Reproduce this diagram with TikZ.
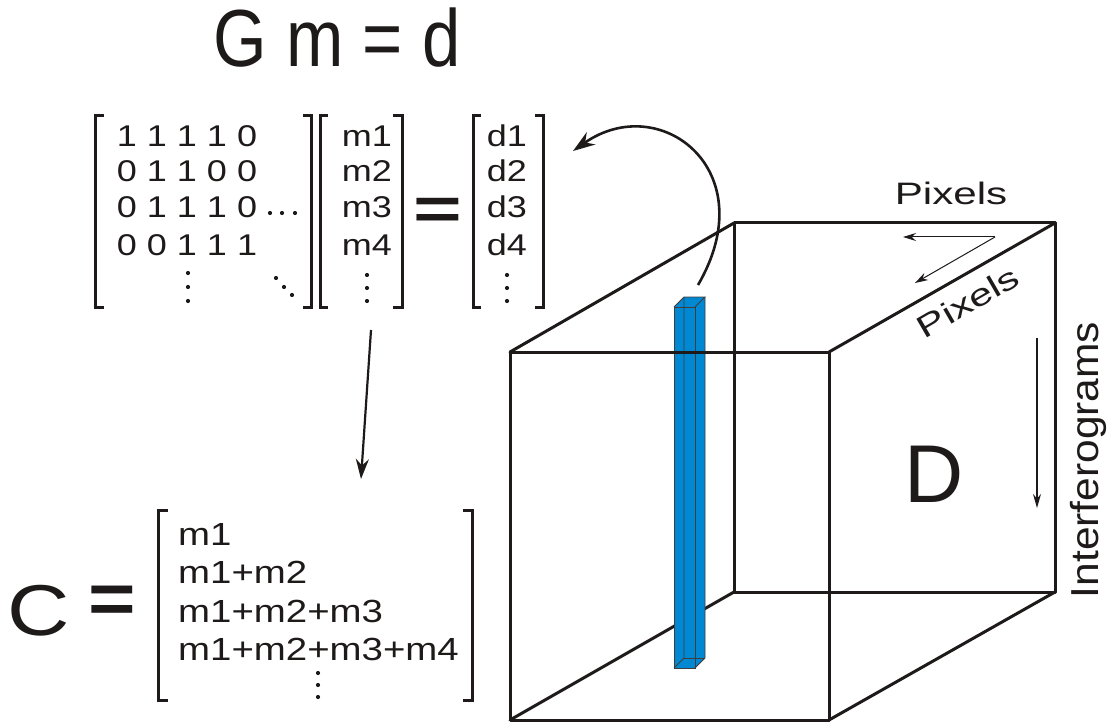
\documentclass[tikz,border=0pt]{standalone}
\usepackage{fontspec}
\setmainfont{Liberation Sans}
\newfontfamily\fW{Liberation Sans}[FakeStretch=1.2]
\newfontfamily\fT{Liberation Sans}[FakeStretch=0.85]
\newfontfamily\fP{Liberation Sans}[FakeStretch=1.36]
\newfontfamily\fI{Liberation Sans}[FakeStretch=1.09]
\usetikzlibrary{arrows.meta}
\definecolor{barblue}{RGB}{0,137,210}
\definecolor{ink}{RGB}{30,26,26}
\tikzset{
  cubeedge/.style={line width=3pt, draw=ink, line cap=round, line join=round},
  brk/.style={line width=3pt, draw=ink, line join=miter},
  mtxt/.style={font=\fW\fontsize{30}{36}\selectfont, inner sep=0pt, anchor=base, text=ink},
  ctxt/.style={font=\fW\fontsize{32}{38}\selectfont, inner sep=0pt, anchor=base west, text=ink},
  lbl/.style={font=\fP\fontsize{31}{36}\selectfont, inner sep=0pt, text=ink},
  baredge/.style={line width=0.8pt, draw=ink!85},
  thinarrow/.style={line width=1pt, draw=ink, -{Stealth[length=13pt,width=8pt]}},
  bigarrow/.style={line width=2.2pt, draw=ink, -{Stealth[length=20pt,width=13pt]}},
}
\begin{document}
\begin{tikzpicture}[x=1pt,y=-1pt]
\useasboundingbox (0,0) rectangle (1114,722);

% ---------- title ----------
\node[font=\fT\fontsize{81}{90}\selectfont, inner sep=0pt, anchor=base, text=ink] (title) at (337,67) {G m = d};

% ---------- G matrix ----------
\draw[brk] (104,116) -- (95,116) -- (95,307) -- (104,307);
\draw[brk] (303,116) -- (311,116) -- (311,307) -- (303,307);
\node[mtxt] (g1) at (187,147) {1 1 1 1 0};
\node[mtxt] (g2) at (187,182) {0 1 1 0 0};
\node[mtxt] (g3) at (187,218) {0 1 1 1 0};
\node[mtxt] (g4) at (187,255) {0 0 1 1 1};
\foreach \x in {270,282,295} \fill[ink] (\x,213) circle (2.1);
\foreach \y in {273,287,301} \fill[ink] (188,\y) circle (2.1);
\fill[ink] (276,278) circle (2.1);
\fill[ink] (284,287) circle (2.1);
\fill[ink] (292,295) circle (2.1);

% ---------- m vector ----------
\draw[brk] (328,116) -- (320,116) -- (320,307) -- (328,307);
\draw[brk] (393,116) -- (402,116) -- (402,307) -- (393,307);
\node[mtxt] (m1) at (367,147) {m1};
\node[mtxt] (m2) at (367,182) {m2};
\node[mtxt] (m3) at (367,218) {m3};
\node[mtxt] (m4) at (367,255) {m4};
\foreach \y in {275,288,301} \fill[ink] (367,\y) circle (2.1);

% ---------- equals ----------
\node[inner sep=0pt, text=ink] (eq1) at (438,214)
  {\scalebox{1.39}[1]{\fontsize{60}{60}\selectfont\bfseries =}};

% ---------- d vector ----------
\draw[brk] (481,116) -- (473,116) -- (473,307) -- (481,307);
\draw[brk] (535,116) -- (543,116) -- (543,307) -- (535,307);
\node[mtxt] (d1) at (507,147) {d1};
\node[mtxt] (d2) at (507,182) {d2};
\node[mtxt] (d3) at (507,218) {d3};
\node[mtxt] (d4) at (507,255) {d4};
\foreach \y in {275,288,301} \fill[ink] (507,\y) circle (2.1);

% ---------- C = [...] ----------
\node[font=\fW\fontsize{72}{80}\selectfont, inner sep=0pt, text=ink] (C) at (39,611) {C};
\node[inner sep=0pt, text=ink] (eq2) at (112,605)
  {\scalebox{1.13}[1]{\fontsize{72}{72}\selectfont\bfseries =}};
\draw[brk] (168,510) -- (158,510) -- (158,700) -- (168,700);
\draw[brk] (463,510) -- (472,510) -- (472,700) -- (463,700);
\node[ctxt] (c1) at (178,545) {m1};
\node[ctxt] (c2) at (178,583) {m1+m2};
\node[ctxt] (c3) at (178,622) {m1+m2+m3};
\node[ctxt] (c4) at (178,660) {m1+m2+m3+m4};
\foreach \y in {673,685,697} \fill[ink] (318,\y) circle (2.1);

% ---------- arrow m -> C ----------
\coordinate (mbot) at (371,330);
\coordinate (ctop) at (361,479);
\draw[bigarrow] (mbot) -- (ctop);

% ---------- cube corners ----------
\coordinate (F1) at (510,352);
\coordinate (F2) at (829,352);
\coordinate (F3) at (829,720);
\coordinate (F4) at (510,720);
\coordinate (B1) at (734,223);
\coordinate (B2) at (1055,223);
\coordinate (B3) at (1055,592);
\coordinate (B4) at (734,592);
% back face and hidden edges (behind the bar)
\draw[cubeedge] (B1) -- (B2) -- (B3) -- (B4) -- cycle;
\draw[cubeedge] (F1) -- (B1);
\draw[cubeedge] (F4) -- (B4);

% ---------- blue bar ----------
\fill[barblue] (674,307) -- (684,297) -- (705,297) -- (705,658) -- (695,668) -- (674,668) -- cycle;
\draw[baredge] (674,307) rectangle (695,668);
\draw[baredge] (674,307) -- (684,297) -- (705,297) -- (695,307);
\draw[baredge] (705,297) -- (705,658) -- (695,668);
\draw[baredge] (684,297) -- (684,658) -- (674,668);
\draw[baredge] (684,658) -- (705,658);

% ---------- cube: front edges ----------
\draw[cubeedge] (F1) -- (F2) -- (F3) -- (F4) -- cycle;
\draw[cubeedge] (F2) -- (B2);
\draw[cubeedge] (F3) -- (B3);

% ---------- curved arrow from bar to d ----------
\coordinate (bartop) at (698,285);
\coordinate (dvec) at (573,151);
\draw[line width=2.6pt, draw=ink, -{Stealth[length=22pt,width=15pt]}]
  (bartop) .. controls (765,170) and (660,90) .. (dvec);

% ---------- labels and axis arrows ----------
\node[lbl, anchor=base] (px1) at (951,205) {Pixels};
\node[lbl, anchor=center, rotate=30] (px2) at (968,302) {Pixels};
\coordinate (pa) at (995,237);
\coordinate (pb) at (903,237);
\coordinate (pc) at (915,283);
\draw[thinarrow] (pa) -- (pb);
\draw[thinarrow] (pa) -- (pc);

\node[font=\fI\fontsize{39}{44}\selectfont, inner sep=0pt, anchor=base, rotate=90, text=ink] (intf) at (1098,460) {Interferograms};
\coordinate (ia) at (1037,338);
\coordinate (ib) at (1037,508);
\draw[line width=1.3pt, draw=ink, -{Stealth[length=14pt,width=8pt]}] (ia) -- (ib);

\node[font=\fontsize{82}{90}\selectfont, inner sep=0pt, anchor=base, text=ink] (D) at (934,502) {D};
\end{tikzpicture}
\end{document}
